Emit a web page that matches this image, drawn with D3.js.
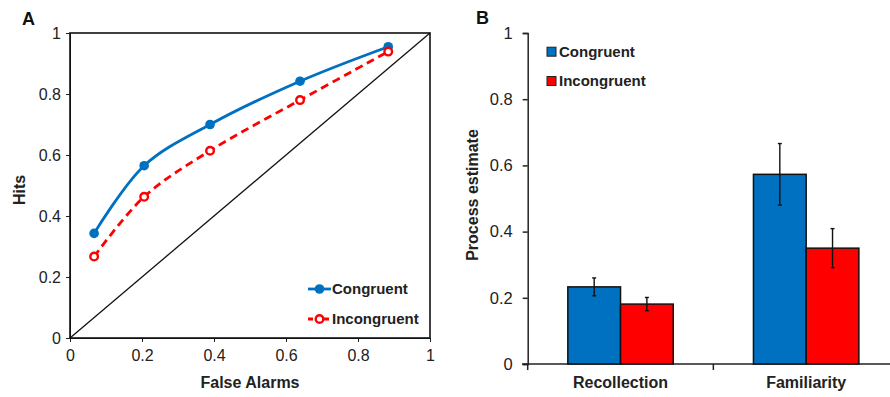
<!DOCTYPE html>
<html>
<head>
<meta charset="utf-8">
<script src="https://cdn.jsdelivr.net/npm/d3@7"></script>
<style>
  body { margin: 0; background: #fff; }
  svg { display: block; font-family: "Liberation Sans", Arial, sans-serif; }
</style>
</head>
<body>
<svg width="890" height="397"></svg>
<script>
// panel A - ROC points
const falseAlarms = [0.067, 0.206, 0.389, 0.639, 0.884];
const congruentHits = [0.343, 0.565, 0.70, 0.842, 0.955];
const incongruentHits = [0.267, 0.463, 0.614, 0.780, 0.939];
const rocTicks = [0, 0.2, 0.4, 0.6, 0.8, 1];

// panel B - process estimates
const processes = ["Recollection", "Familiarity"];
const congruentEst = [0.233, 0.573];
const incongruentEst = [0.181, 0.350];
const congruentErr = [0.027, 0.093];
const incongruentErr = [0.020, 0.059];
const estTicks = [0, 0.2, 0.4, 0.6, 0.8, 1];

const blue = "#0070C0";
const red = "#FF0000";

const svg = d3.select("svg");

// ---------- Panel A ----------
const ax = d3.scaleLinear().domain([0, 1]).range([70, 430]);
const ay = d3.scaleLinear().domain([0, 1]).range([338, 33]);

const gA = svg.append("g");

gA.append("g")
  .attr("transform", "translate(0,338)")
  .call(d3.axisBottom(ax).tickValues(rocTicks).tickFormat(d3.format("")).tickSizeOuter(0).tickSize(4).tickPadding(8))
  .call(g => g.selectAll("text").attr("font-size", 16).attr("fill", "#222"))
  .call(g => g.selectAll("line, path").attr("stroke", "#222"));

gA.append("g")
  .attr("transform", "translate(70,0)")
  .call(d3.axisLeft(ay).tickValues(rocTicks).tickFormat(d3.format("")).tickSizeOuter(0).tickSize(4).tickPadding(5))
  .call(g => g.selectAll("text").attr("font-size", 16).attr("fill", "#222"))
  .call(g => g.selectAll("line, path").attr("stroke", "#222"));

// box + diagonal
gA.append("rect")
  .attr("x", ax(0)).attr("y", ay(1))
  .attr("width", ax(1) - ax(0)).attr("height", ay(0) - ay(1))
  .attr("fill", "none").attr("stroke", "#111").attr("stroke-width", 1.6);

gA.append("line")
  .attr("x1", ax(0)).attr("y1", ay(0)).attr("x2", ax(1)).attr("y2", ay(1))
  .attr("stroke", "#111").attr("stroke-width", 1.3);

const line = d3.line()
  .x(d => ax(d[0])).y(d => ay(d[1]))
  .curve(d3.curveCatmullRom.alpha(0.5));

const congPts = falseAlarms.map((f, i) => [f, congruentHits[i]]);
const incPts = falseAlarms.map((f, i) => [f, incongruentHits[i]]);

gA.append("path").datum(congPts)
  .attr("d", line).attr("fill", "none")
  .attr("stroke", blue).attr("stroke-width", 2.8);

gA.append("path").datum(incPts)
  .attr("d", line).attr("fill", "none")
  .attr("stroke", red).attr("stroke-width", 2.8)
  .attr("stroke-dasharray", "8,5");

gA.selectAll(".cdot").data(congPts).enter()
  .append("circle")
  .attr("cx", d => ax(d[0])).attr("cy", d => ay(d[1]))
  .attr("r", 4.8).attr("fill", blue);

gA.selectAll(".idot").data(incPts).enter()
  .append("circle")
  .attr("cx", d => ax(d[0])).attr("cy", d => ay(d[1]))
  .attr("r", 3.8).attr("fill", "#fff")
  .attr("stroke", red).attr("stroke-width", 2.4);

// legend A
const legA = [
  { name: "Congruent", y: 289, color: blue, dash: null, open: false },
  { name: "Incongruent", y: 319, color: red, dash: "5,3", open: true }
];
legA.forEach(l => {
  gA.append("line")
    .attr("x1", 308).attr("x2", 331).attr("y1", l.y).attr("y2", l.y)
    .attr("stroke", l.color).attr("stroke-width", 2.8)
    .attr("stroke-dasharray", l.dash);
  gA.append("circle")
    .attr("cx", 319.5).attr("cy", l.y)
    .attr("r", l.open ? 3.8 : 4.8)
    .attr("fill", l.open ? "#fff" : l.color)
    .attr("stroke", l.open ? l.color : "none")
    .attr("stroke-width", 2.4);
  gA.append("text")
    .attr("x", 332).attr("y", l.y).attr("dy", "0.36em")
    .attr("font-size", 15).attr("font-weight", "bold").attr("fill", "#222")
    .text(l.name);
});

gA.append("text")
  .attr("x", 250).attr("y", 388)
  .attr("text-anchor", "middle").attr("font-size", 16).attr("font-weight", "bold").attr("fill", "#222")
  .text("False Alarms");

gA.append("text")
  .attr("transform", "translate(25,190) rotate(-90)")
  .attr("text-anchor", "middle").attr("font-size", 16).attr("font-weight", "bold").attr("fill", "#222")
  .text("Hits");

gA.append("text")
  .attr("x", 22).attr("y", 25)
  .attr("font-size", 18).attr("font-weight", "bold").attr("fill", "#111")
  .text("A");

// ---------- Panel B ----------
const bx = d3.scaleBand().domain(processes).range([527.7, 899]).paddingInner(0).paddingOuter(0);
const by = d3.scaleLinear().domain([0, 1]).range([364, 33]);
const series = ["Congruent", "Incongruent"];
const bx1 = d3.scaleBand().domain(series).range([0, bx.bandwidth()]).paddingOuter(0.761).paddingInner(0);

const gB = svg.append("g");

gB.append("g")
  .attr("transform", "translate(527.7,0)")
  .call(d3.axisLeft(by).tickValues(estTicks).tickFormat(d3.format("")).tickSizeOuter(0).tickSize(5).tickPadding(10))
  .call(g => g.selectAll("text").attr("font-size", 16.5).attr("fill", "#222"))
  .call(g => g.selectAll("line, path").attr("stroke", "#222").attr("stroke-width", 1.5));

// category axis with boundary ticks
const xAxisB = gB.append("g").attr("transform", "translate(0,364)");
xAxisB.append("line")
  .attr("x1", 522).attr("x2", 899).attr("stroke", "#222").attr("stroke-width", 1.5);
processes.forEach(p => {
  xAxisB.append("line")
    .attr("x1", bx(p)).attr("x2", bx(p)).attr("y1", 0).attr("y2", 6)
    .attr("stroke", "#222").attr("stroke-width", 1.5);
  xAxisB.append("text")
    .attr("x", bx(p) + bx.bandwidth() / 2).attr("y", 18).attr("dy", "0.36em")
    .attr("text-anchor", "middle").attr("font-size", 16).attr("font-weight", "bold").attr("fill", "#222")
    .text(p);
});

const barData = [];
processes.forEach((p, i) => {
  barData.push({ p, s: "Congruent", v: congruentEst[i], e: congruentErr[i], c: blue });
  barData.push({ p, s: "Incongruent", v: incongruentEst[i], e: incongruentErr[i], c: red });
});

gB.selectAll(".bar").data(barData).enter()
  .append("rect")
  .attr("class", "bar")
  .attr("x", d => bx(d.p) + bx1(d.s))
  .attr("y", d => by(d.v))
  .attr("width", bx1.bandwidth())
  .attr("height", d => by(0) - by(d.v))
  .attr("fill", d => d.c)
  .attr("stroke", "#111").attr("stroke-width", 1.5);

const errG = gB.selectAll(".err").data(barData).enter().append("g");
errG.append("line")
  .attr("x1", d => bx(d.p) + bx1(d.s) + bx1.bandwidth() / 2)
  .attr("x2", d => bx(d.p) + bx1(d.s) + bx1.bandwidth() / 2)
  .attr("y1", d => by(d.v + d.e)).attr("y2", d => by(d.v - d.e))
  .attr("stroke", "#111").attr("stroke-width", 1.4);
[1, -1].forEach(sgn => {
  errG.append("line")
    .attr("x1", d => bx(d.p) + bx1(d.s) + bx1.bandwidth() / 2 - 2)
    .attr("x2", d => bx(d.p) + bx1(d.s) + bx1.bandwidth() / 2 + 2)
    .attr("y1", d => by(d.v + sgn * d.e)).attr("y2", d => by(d.v + sgn * d.e))
    .attr("stroke", "#111").attr("stroke-width", 1.4);
});

// legend B
const legB = [
  { name: "Congruent", y: 51.7, color: blue },
  { name: "Incongruent", y: 81, color: red }
];
legB.forEach(l => {
  gB.append("rect")
    .attr("x", 547).attr("y", l.y - 4.5).attr("width", 9).attr("height", 9)
    .attr("fill", l.color).attr("stroke", "#222").attr("stroke-width", 1);
  gB.append("text")
    .attr("x", 559).attr("y", l.y).attr("dy", "0.36em")
    .attr("font-size", 15).attr("font-weight", "bold").attr("fill", "#222")
    .text(l.name);
});

gB.append("text")
  .attr("transform", "translate(478,195) rotate(-90)")
  .attr("text-anchor", "middle").attr("font-size", 16).attr("font-weight", "bold").attr("fill", "#222")
  .text("Process estimate");

gB.append("text")
  .attr("x", 476).attr("y", 24)
  .attr("font-size", 18).attr("font-weight", "bold").attr("fill", "#111")
  .text("B");
</script>
</body>
</html>
